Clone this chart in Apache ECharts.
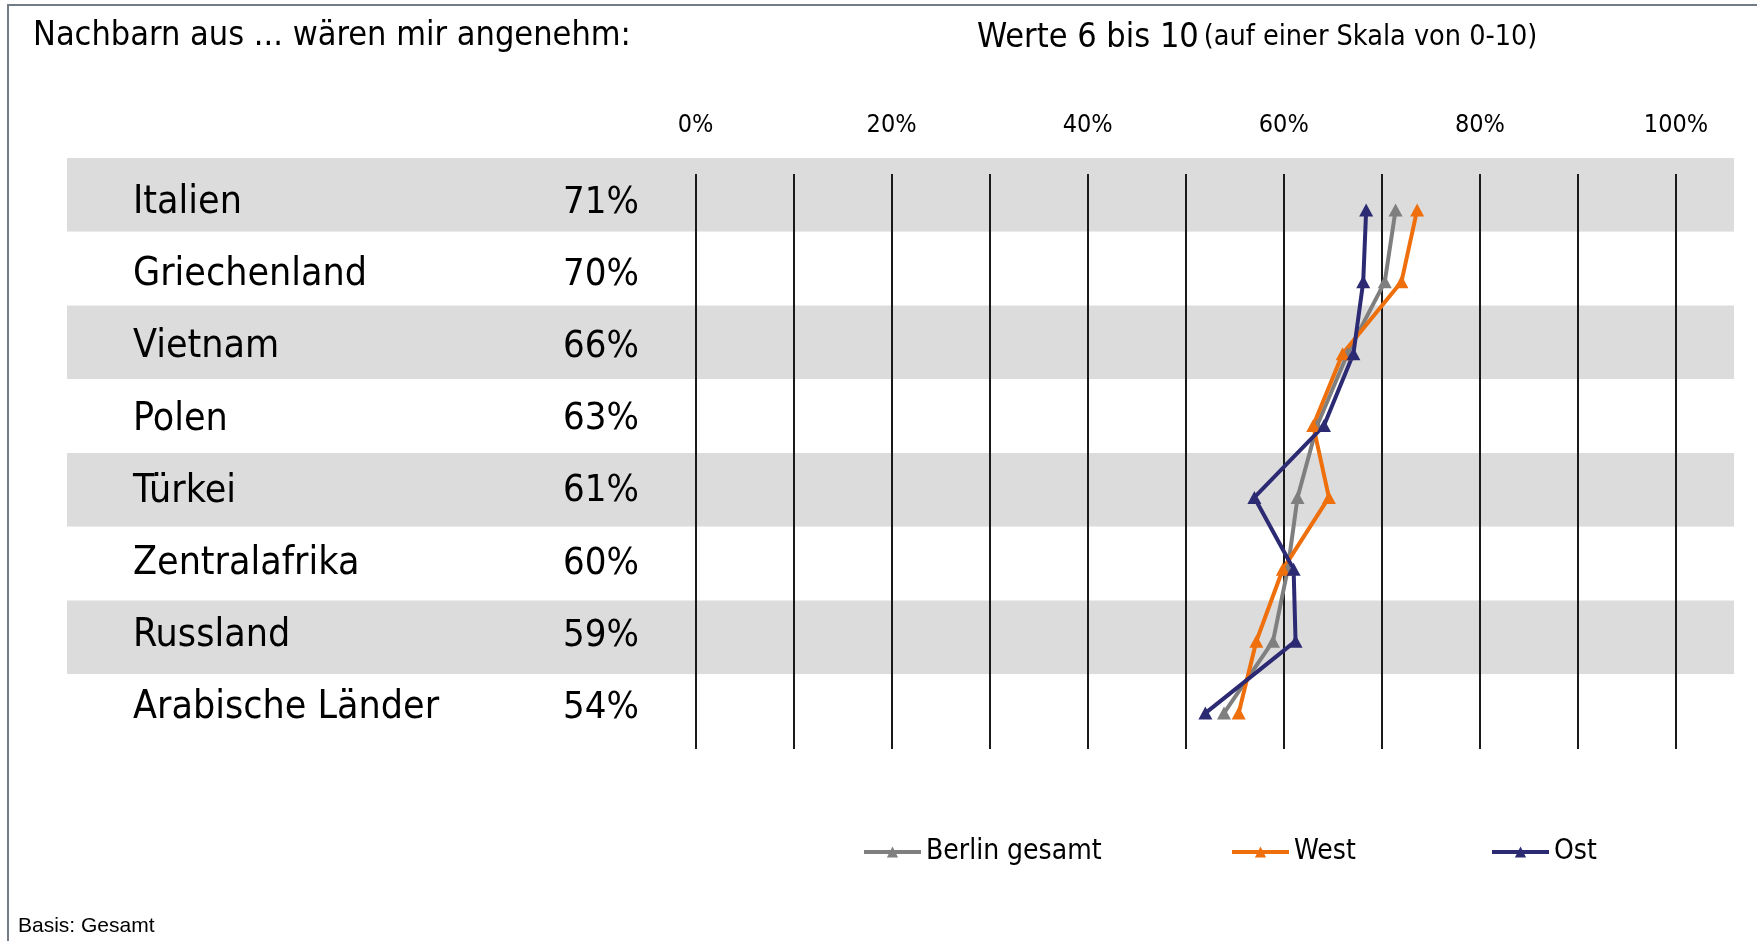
<!DOCTYPE html>
<html>
<head>
<meta charset="utf-8">
<title>Nachbarn</title>
<script src="https://cdn.jsdelivr.net/npm/echarts@6/dist/echarts.min.js"></script>
<style>
  html, body { margin: 0; padding: 0; background: #fff; }
  #myChart { width: 1757px; height: 941px; }
</style>
</head>
<body>
<div id="myChart"></div>
<script>
// Länder (von oben nach unten)
const laender = ['Italien', 'Griechenland', 'Vietnam', 'Polen', 'Türkei', 'Zentralafrika', 'Russland', 'Arabische Länder']
// Werte in der Spalte neben den Ländern (Berlin gesamt, gerundet)
const gesamtLabels = ['71%', '70%', '66%', '63%', '61%', '60%', '59%', '54%']
// Linien (Anteil Werte 6 bis 10 in %)
const berlinGesamt = [71.4, 70.3, 66.5, 63.4, 61.4, 60.4, 58.9, 53.9]
const west = [73.6, 72.0, 66.0, 63.0, 64.6, 59.9, 57.2, 55.4]
const ost = [68.4, 68.1, 67.1, 64.1, 57.0, 61.0, 61.2, 52.0]
// Achsenbeschriftung oben
const xTicks = [0, 20, 40, 60, 80, 100]

// schmale Schrift (Narrow gibt es nicht immer, dann Condensed)
const narrow = '"Liberation Sans Narrow", "Arial Narrow", "DejaVu Sans Condensed", sans-serif'

function lineSeries(name, data, color) {
  return {
    name: name,
    type: 'line',
    xAxisIndex: 1,
    yAxisIndex: 1,
    data: data,
    symbol: 'triangle',
    symbolSize: [14, 13],
    itemStyle: { color: color },
    lineStyle: { color: color, width: 4 },
    emphasis: { disabled: true }
  }
}

// je Eintrag eine eigene Legende, damit die Abstände wie im Original sind
function legendItem(name, left) {
  return {
    data: [name],
    left: left,
    top: 833,
    itemWidth: 57,
    itemHeight: 14,
    lineStyle: { width: 4 },
    textStyle: { fontFamily: narrow, fontSize: 28, color: '#000' }
  }
}

let option = {
  animation: false,
  backgroundColor: '#fff',
  title: [
    {
      text: 'Nachbarn aus ... wären mir angenehm:',
      left: 33,
      top: 19,
      padding: 0,
      textStyle: { fontFamily: narrow, fontSize: 34, fontWeight: 'normal', color: '#000' }
    },
    {
      text: '{a|Werte 6 bis 10} {b|(auf einer Skala von 0-10)}',
      left: 977,
      top: 21,
      padding: 0,
      textStyle: {
        fontWeight: 'normal',
        rich: {
          a: { fontFamily: narrow, fontSize: 34, fontWeight: 'normal', color: '#000' },
          b: { fontFamily: narrow, fontSize: 28.5, fontWeight: 'normal', color: '#000' }
        }
      }
    }
  ],
  legend: [
    legendItem('Berlin gesamt', 857),
    legendItem('West', 1225),
    legendItem('Ost', 1485)
  ],
  grid: [
    // graue Streifen
    { left: 67, right: 23, top: 158, height: 590 },
    // Linien
    { left: 695.5, right: 81, top: 174, bottom: 192 },
    // Beschriftung der Zeilen
    { left: 67, right: 23, top: 167, height: 577 }
  ],
  xAxis: [
    { gridIndex: 0, type: 'value', show: false },
    {
      gridIndex: 1,
      type: 'value',
      position: 'top',
      min: 0,
      max: 100,
      interval: 10,
      axisLine: { show: false },
      axisTick: { show: false },
      axisLabel: {
        margin: 36,
        fontFamily: narrow,
        fontSize: 25,
        color: '#000',
        formatter: function (v) {
          return xTicks.indexOf(v) >= 0 ? v + '%' : ''
        }
      },
      splitLine: { show: true, lineStyle: { color: '#1a1a1a', width: 2 } }
    },
    { gridIndex: 2, type: 'value', show: false }
  ],
  yAxis: [
    {
      gridIndex: 0,
      type: 'category',
      data: laender,
      inverse: true,
      axisLine: { show: false },
      axisTick: { show: false },
      axisLabel: { show: false },
      splitArea: { show: true, areaStyle: { color: ['#dcdcdc', '#ffffff'] } }
    },
    {
      gridIndex: 1,
      type: 'category',
      data: laender,
      inverse: true,
      show: false
    },
    {
      gridIndex: 2,
      type: 'category',
      data: laender,
      inverse: true,
      axisLine: { show: false },
      axisTick: { show: false },
      axisLabel: {
        align: 'left',
        margin: -66,
        fontFamily: narrow,
        fontSize: 39,
        color: '#000'
      }
    },
    {
      gridIndex: 2,
      type: 'category',
      position: 'right',
      data: gesamtLabels,
      inverse: true,
      axisLine: { show: false },
      axisTick: { show: false },
      axisLabel: {
        align: 'right',
        margin: -1095,
        fontFamily: narrow,
        fontSize: 38,
        color: '#000'
      }
    }
  ],
  graphic: [
    {
      // Rahmen (nur links und oben sichtbar)
      type: 'rect',
      shape: { x: 8, y: 5, width: 1800, height: 1000 },
      style: { fill: null, stroke: '#737b85', lineWidth: 2 },
      z: 100
    },
    {
      type: 'text',
      left: 18,
      top: 916,
      style: { text: 'Basis: Gesamt', font: '21px "Liberation Sans", Arial, sans-serif', fill: '#000' }
    }
  ],
  series: [
    lineSeries('Berlin gesamt', berlinGesamt, '#7f7f7f'),
    lineSeries('West', west, '#ee6f0b'),
    lineSeries('Ost', ost, '#2c2a72')
  ]
}

const myChart = echarts.init(document.getElementById('myChart'))
myChart.setOption(option)
</script>
</body>
</html>
